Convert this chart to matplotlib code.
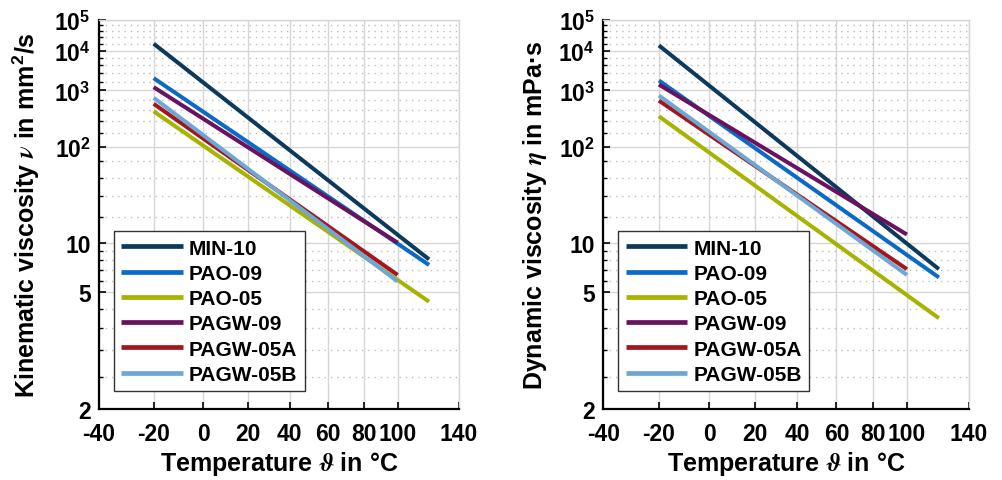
import numpy as np
import matplotlib
matplotlib.use("Agg")
import matplotlib.pyplot as plt
from matplotlib.ticker import FixedLocator, FixedFormatter, NullLocator

plt.rcParams["font.family"] = ["Liberation Sans", "DejaVu Sans"]
plt.rcParams["font.weight"] = "bold"
plt.rcParams["mathtext.fontset"] = "custom"
plt.rcParams["mathtext.rm"] = "Liberation Sans:bold"
plt.rcParams["mathtext.bf"] = "Liberation Sans:bold"
plt.rcParams["mathtext.it"] = "STIXGeneral:italic"

# fluids, colours and end points of the straight viscosity lines
fluids = ["MIN-10", "PAO-09", "PAO-05", "PAGW-09", "PAGW-05A", "PAGW-05B"]
colors = ["#0d3a5c", "#0b6bc4", "#a6b300", "#6a1160", "#a3161e", "#6ea7d4"]
t_start = [-20, -20, -20, -20, -20, -20]
t_end = [120, 120, 120, 100, 100, 100]
nu_start = [16000, 1900, 380, 1180, 530, 700]      # mm^2/s
nu_end = [7.7, 7.1, 4.5, 10.0, 6.2, 5.7]
eta_start = [14200, 1670, 309, 1350, 614, 778]     # mPa s
eta_end = [6.7, 6.0, 3.8, 11.5, 6.7, 6.2]

x_ticks = [-40, -20, 0, 20, 40, 60, 80, 100, 140]
y_ticks = [2, 5, 10, 1e2, 1e3, 1e4, 1e5]
y_labels = ["2", "5", "10", r"$10^2$", r"$10^3$", r"$10^4$", r"$10^5$"]


# temperature axis: log(theta + 220); viscosity axis: log(log(v))
def fx(t):
    return np.log10(np.clip(np.asarray(t, float) + 220.0, 1e-9, None))


def fx_inv(u):
    return 10.0 ** np.asarray(u, float) - 220.0


def fy(v):
    v = np.clip(np.asarray(v, float), 1.0 + 1e-9, None)
    return np.log10(np.log10(v))


def fy_inv(u):
    with np.errstate(over="ignore"):
        return 10.0 ** (10.0 ** np.asarray(u, float))


# four minor ticks between neighbouring majors, evenly spaced in log(v)
lg = np.log10(y_ticks)
y_minor = [10 ** (a + (b - a) * k / 5) for a, b in zip(lg[:-1], lg[1:]) for k in range(1, 5)]


def setup(ax, ylabel, ylab_x):
    ax.set_xscale("function", functions=(fx, fx_inv))
    ax.set_yscale("function", functions=(fy, fy_inv))
    ax.set_xlim(-40, 140)
    ax.set_ylim(2, 1e5)
    ax.xaxis.set_major_locator(FixedLocator(x_ticks))
    ax.xaxis.set_major_formatter(FixedFormatter([str(t) for t in x_ticks]))
    ax.xaxis.set_minor_locator(NullLocator())
    ax.yaxis.set_major_locator(FixedLocator(y_ticks))
    ax.yaxis.set_major_formatter(FixedFormatter(y_labels))
    ax.yaxis.set_minor_locator(FixedLocator(y_minor))
    ax.grid(which="major", color="#d6d6d6", lw=1.0)
    ax.grid(which="minor", axis="y", color="#bdbdbd", lw=1.0, ls=(0, (1, 3.5)))
    ax.set_axisbelow(True)
    ax.tick_params(which="major", direction="in", length=5, width=1.2,
                   labelsize=16.5)
    ax.tick_params(axis="x", pad=9)
    ax.tick_params(axis="y", pad=6)
    ax.tick_params(which="minor", direction="in", length=3, width=1)
    ax.tick_params(top=False, right=False)
    for s in ("left", "bottom"):
        ax.spines[s].set_linewidth(1.6)
        ax.spines[s].set_color("black")
    for s in ("top", "right"):
        ax.spines[s].set_linewidth(1.0)
        ax.spines[s].set_color("#d6d6d6")
    ax.set_xlabel(r"Temperature $\vartheta$ in °C", fontsize=18, fontweight="bold")
    ax.set_ylabel(ylabel, fontsize=18, fontweight="bold")
    ax.xaxis.set_label_coords(0.5, -0.102)
    ax.yaxis.set_label_coords(ylab_x, 0.5)


fig = plt.figure(figsize=(10.02, 4.81), dpi=100)
ax1 = fig.add_axes([0.0988, 0.1476, 0.3590, 0.8094])
ax2 = fig.add_axes([0.6021, 0.1476, 0.3650, 0.8094])

for ax, v0, v1 in ((ax1, nu_start, nu_end), (ax2, eta_start, eta_end)):
    for name, c, ta, tb, a, b in zip(fluids, colors, t_start, t_end, v0, v1):
        ax.plot([ta, tb], [a, b], color=c, lw=2.9, label=name,
                solid_capstyle="butt")

setup(ax1, r"Kinematic viscosity $\nu$ in mm$^2$/s", -0.159)
setup(ax2, r"Dynamic viscosity $\eta$ in mPa·s", -0.148)

for ax, x0 in ((ax1, 0.0417), (ax2, 0.041)):
    leg = ax.legend(loc="lower left", bbox_to_anchor=(x0, 0.0455),
                    borderaxespad=0, fontsize=15, handlelength=2.95,
                    handletextpad=0.3, labelspacing=0.3, borderpad=0.35,
                    fancybox=False, framealpha=1, edgecolor="#333333")
    leg.get_frame().set_linewidth(1.0)
    for line in leg.get_lines():
        line.set_linewidth(3.4)

fig.savefig("out.png", dpi=100, facecolor="white")
